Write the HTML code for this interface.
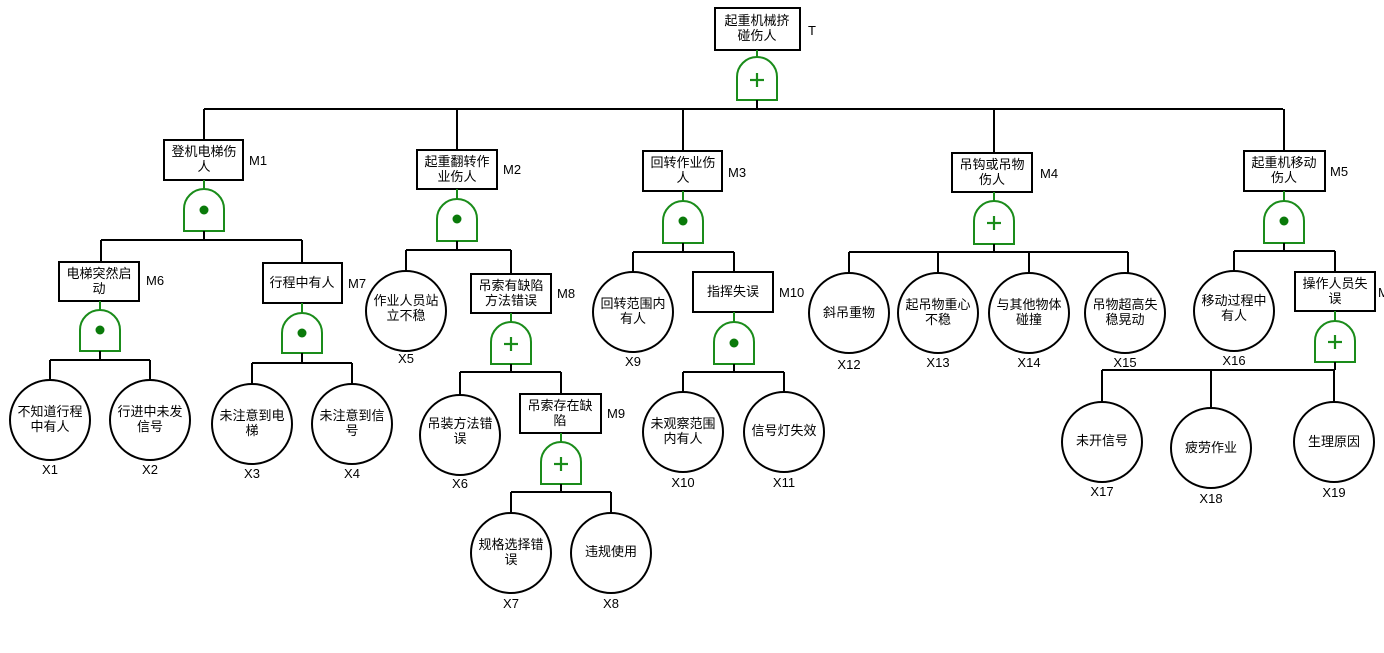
<!DOCTYPE html>
<html><head><meta charset="utf-8"><style>
html,body{margin:0;padding:0;background:#fff;width:1384px;height:653px;overflow:hidden}
svg text{font-family:"Liberation Sans","Noto Sans CJK SC",sans-serif;font-size:13px;fill:#000}
.b{fill:#fff;stroke:#000;stroke-width:2}
.l{stroke:#000;stroke-width:2;fill:none}
.g{fill:#fff;stroke:#1a8c1a;stroke-width:2}
.gl{stroke:#1a8c1a;stroke-width:2}
.p{stroke:#1a8c1a;stroke-width:2.2}
</style></head><body>
<svg width="1384" height="653" viewBox="0 0 1384 653" xmlns="http://www.w3.org/2000/svg">
<!-- T -->
<rect class="b" x="715" y="8" width="85" height="42"/>
<text x="757" y="25" text-anchor="middle">起重机械挤</text><text x="757" y="40" text-anchor="middle">碰伤人</text>
<text x="808" y="35">T</text>
<line class="gl" x1="757" y1="50" x2="757" y2="58"/>
<path class="g" d="M737,100 L737,77 A20,20 0 0 1 777,77 L777,100 Z"/>
<line class="p" x1="750" y1="80" x2="764" y2="80"/><line class="p" x1="757" y1="73" x2="757" y2="87"/>
<path class="l" d="M757,100 V109 M204,109 H1283 M204,109 V140 M457,109 V150 M683,109 V151 M994,109 V153 M1284,109 V151"/>

<!-- M1 -->
<rect class="b" x="164" y="140" width="79" height="40"/>
<text x="204" y="156" text-anchor="middle">登机电梯伤</text><text x="204" y="171" text-anchor="middle">人</text>
<text x="249" y="165">M1</text>
<line class="gl" x1="204" y1="180" x2="204" y2="190"/>
<path class="g" d="M184,231 L184,209 A20,20 0 0 1 224,209 L224,231 Z"/>
<circle cx="204" cy="210" r="4.5" fill="#0a7a0a"/>
<path class="l" d="M204,231 V240 M101,240 H302 M101,240 V262 M302,240 V263"/>
<!-- M6 -->
<rect class="b" x="59" y="262" width="80" height="39"/>
<text x="99" y="278" text-anchor="middle">电梯突然启</text><text x="99" y="293" text-anchor="middle">动</text>
<text x="146" y="285">M6</text>
<line class="gl" x1="100" y1="301" x2="100" y2="311"/>
<path class="g" d="M80,351 L80,330 A20,20 0 0 1 120,330 L120,351 Z"/>
<circle cx="100" cy="330" r="4.5" fill="#0a7a0a"/>
<path class="l" d="M100,351 V360 M50,360 H150 M50,360 V380 M150,360 V380"/>
<circle class="b" cx="50" cy="420" r="40"/><text x="50" y="416" text-anchor="middle">不知道行程</text><text x="50" y="431" text-anchor="middle">中有人</text><text x="50" y="474" text-anchor="middle">X1</text>
<circle class="b" cx="150" cy="420" r="40"/><text x="150" y="416" text-anchor="middle">行进中未发</text><text x="150" y="431" text-anchor="middle">信号</text><text x="150" y="474" text-anchor="middle">X2</text>
<!-- M7 -->
<rect class="b" x="263" y="263" width="79" height="40"/>
<text x="302" y="287" text-anchor="middle">行程中有人</text>
<text x="348" y="288">M7</text>
<line class="gl" x1="302" y1="303" x2="302" y2="313"/>
<path class="g" d="M282,353 L282,333 A20,20 0 0 1 322,333 L322,353 Z"/>
<circle cx="302" cy="333" r="4.5" fill="#0a7a0a"/>
<path class="l" d="M302,353 V363 M252,363 H352 M252,363 V384 M352,363 V384"/>
<circle class="b" cx="252" cy="424" r="40"/><text x="252" y="420" text-anchor="middle">未注意到电</text><text x="252" y="435" text-anchor="middle">梯</text><text x="252" y="478" text-anchor="middle">X3</text>
<circle class="b" cx="352" cy="424" r="40"/><text x="352" y="420" text-anchor="middle">未注意到信</text><text x="352" y="435" text-anchor="middle">号</text><text x="352" y="478" text-anchor="middle">X4</text>

<!-- M2 -->
<rect class="b" x="417" y="150" width="80" height="39"/>
<text x="457" y="166" text-anchor="middle">起重翻转作</text><text x="457" y="181" text-anchor="middle">业伤人</text>
<text x="503" y="174">M2</text>
<line class="gl" x1="457" y1="189" x2="457" y2="200"/>
<path class="g" d="M437,241 L437,219 A20,20 0 0 1 477,219 L477,241 Z"/>
<circle cx="457" cy="219" r="4.5" fill="#0a7a0a"/>
<path class="l" d="M457,241 V250 M406,250 H511 M406,250 V271 M511,250 V274"/>
<circle class="b" cx="406" cy="311" r="40"/><text x="406" y="305" text-anchor="middle">作业人员站</text><text x="406" y="320" text-anchor="middle">立不稳</text><text x="406" y="363" text-anchor="middle">X5</text>
<!-- M8 -->
<rect class="b" x="471" y="274" width="80" height="39"/>
<text x="511" y="290" text-anchor="middle">吊索有缺陷</text><text x="511" y="305" text-anchor="middle">方法错误</text>
<text x="557" y="298">M8</text>
<line class="gl" x1="511" y1="313" x2="511" y2="323"/>
<path class="g" d="M491,364 L491,342 A20,20 0 0 1 531,342 L531,364 Z"/>
<line class="p" x1="504" y1="344" x2="518" y2="344"/><line class="p" x1="511" y1="337" x2="511" y2="351"/>
<path class="l" d="M511,364 V372 M460,372 H561 M460,372 V395 M561,372 V394"/>
<circle class="b" cx="460" cy="435" r="40"/><text x="460" y="428" text-anchor="middle">吊装方法错</text><text x="460" y="443" text-anchor="middle">误</text><text x="460" y="488" text-anchor="middle">X6</text>
<!-- M9 -->
<rect class="b" x="520" y="394" width="81" height="39"/>
<text x="560" y="410" text-anchor="middle">吊索存在缺</text><text x="560" y="425" text-anchor="middle">陷</text>
<text x="607" y="418">M9</text>
<line class="gl" x1="561" y1="433" x2="561" y2="443"/>
<path class="g" d="M541,484 L541,462 A20,20 0 0 1 581,462 L581,484 Z"/>
<line class="p" x1="554" y1="464" x2="568" y2="464"/><line class="p" x1="561" y1="457" x2="561" y2="471"/>
<path class="l" d="M561,484 V492 M511,492 H611 M511,492 V513 M611,492 V513"/>
<circle class="b" cx="511" cy="553" r="40"/><text x="511" y="549" text-anchor="middle">规格选择错</text><text x="511" y="564" text-anchor="middle">误</text><text x="511" y="608" text-anchor="middle">X7</text>
<circle class="b" cx="611" cy="553" r="40"/><text x="611" y="556" text-anchor="middle">违规使用</text><text x="611" y="608" text-anchor="middle">X8</text>

<!-- M3 -->
<rect class="b" x="643" y="151" width="79" height="40"/>
<text x="683" y="167" text-anchor="middle">回转作业伤</text><text x="683" y="182" text-anchor="middle">人</text>
<text x="728" y="177">M3</text>
<line class="gl" x1="683" y1="191" x2="683" y2="202"/>
<path class="g" d="M663,243 L663,221 A20,20 0 0 1 703,221 L703,243 Z"/>
<circle cx="683" cy="221" r="4.5" fill="#0a7a0a"/>
<path class="l" d="M683,243 V252 M633,252 H734 M633,252 V272 M734,252 V272"/>
<circle class="b" cx="633" cy="312" r="40"/><text x="633" y="308" text-anchor="middle">回转范围内</text><text x="633" y="323" text-anchor="middle">有人</text><text x="633" y="366" text-anchor="middle">X9</text>
<!-- M10 -->
<rect class="b" x="693" y="272" width="80" height="40"/>
<text x="733" y="296" text-anchor="middle">指挥失误</text>
<text x="779" y="297">M10</text>
<line class="gl" x1="734" y1="312" x2="734" y2="323"/>
<path class="g" d="M714,364 L714,342 A20,20 0 0 1 754,342 L754,364 Z"/>
<circle cx="734" cy="343" r="4.5" fill="#0a7a0a"/>
<path class="l" d="M734,364 V372 M683,372 H784 M683,372 V392 M784,372 V392"/>
<circle class="b" cx="683" cy="432" r="40"/><text x="683" y="428" text-anchor="middle">未观察范围</text><text x="683" y="443" text-anchor="middle">内有人</text><text x="683" y="487" text-anchor="middle">X10</text>
<circle class="b" cx="784" cy="432" r="40"/><text x="784" y="435" text-anchor="middle">信号灯失效</text><text x="784" y="487" text-anchor="middle">X11</text>

<!-- M4 -->
<rect class="b" x="952" y="153" width="80" height="39"/>
<text x="992" y="169" text-anchor="middle">吊钩或吊物</text><text x="992" y="184" text-anchor="middle">伤人</text>
<text x="1040" y="178">M4</text>
<line class="gl" x1="994" y1="192" x2="994" y2="202"/>
<path class="g" d="M974,244 L974,221 A20,20 0 0 1 1014,221 L1014,244 Z"/>
<line class="p" x1="987" y1="223" x2="1001" y2="223"/><line class="p" x1="994" y1="216" x2="994" y2="230"/>
<path class="l" d="M994,244 V252 M849,252 H1128 M849,252 V273 M938,252 V273 M1029,252 V273 M1128,252 V273"/>
<circle class="b" cx="849" cy="313" r="40"/><text x="849" y="317" text-anchor="middle">斜吊重物</text><text x="849" y="369" text-anchor="middle">X12</text>
<circle class="b" cx="938" cy="313" r="40"/><text x="938" y="309" text-anchor="middle">起吊物重心</text><text x="938" y="324" text-anchor="middle">不稳</text><text x="938" y="367" text-anchor="middle">X13</text>
<circle class="b" cx="1029" cy="313" r="40"/><text x="1029" y="309" text-anchor="middle">与其他物体</text><text x="1029" y="324" text-anchor="middle">碰撞</text><text x="1029" y="367" text-anchor="middle">X14</text>
<circle class="b" cx="1125" cy="313" r="40"/><text x="1125" y="309" text-anchor="middle">吊物超高失</text><text x="1125" y="324" text-anchor="middle">稳晃动</text><text x="1125" y="367" text-anchor="middle">X15</text>

<!-- M5 -->
<rect class="b" x="1244" y="151" width="81" height="40"/>
<text x="1284" y="167" text-anchor="middle">起重机移动</text><text x="1284" y="182" text-anchor="middle">伤人</text>
<text x="1330" y="176">M5</text>
<line class="gl" x1="1284" y1="191" x2="1284" y2="202"/>
<path class="g" d="M1264,243 L1264,221 A20,20 0 0 1 1304,221 L1304,243 Z"/>
<circle cx="1284" cy="221" r="4.5" fill="#0a7a0a"/>
<path class="l" d="M1284,243 V251 M1234,251 H1335 M1234,251 V271 M1335,251 V272"/>
<circle class="b" cx="1234" cy="311" r="40"/><text x="1234" y="305" text-anchor="middle">移动过程中</text><text x="1234" y="320" text-anchor="middle">有人</text><text x="1234" y="365" text-anchor="middle">X16</text>
<rect class="b" x="1295" y="272" width="80" height="39"/>
<text x="1335" y="288" text-anchor="middle">操作人员失</text><text x="1335" y="303" text-anchor="middle">误</text>
<text x="1378" y="297">M</text>
<line class="gl" x1="1335" y1="311" x2="1335" y2="322"/>
<path class="g" d="M1315,362 L1315,341 A20,20 0 0 1 1355,341 L1355,362 Z"/>
<line class="p" x1="1328" y1="342" x2="1342" y2="342"/><line class="p" x1="1335" y1="335" x2="1335" y2="349"/>
<path class="l" d="M1335,362 V370 M1102,370 H1335 M1102,370 V402 M1211,370 V408 M1334,370 V402"/>
<circle class="b" cx="1102" cy="442" r="40"/><text x="1102" y="445" text-anchor="middle">未开信号</text><text x="1102" y="496" text-anchor="middle">X17</text>
<circle class="b" cx="1211" cy="448" r="40"/><text x="1211" y="452" text-anchor="middle">疲劳作业</text><text x="1211" y="503" text-anchor="middle">X18</text>
<circle class="b" cx="1334" cy="442" r="40"/><text x="1334" y="446" text-anchor="middle">生理原因</text><text x="1334" y="497" text-anchor="middle">X19</text>
</svg>
</body></html>
